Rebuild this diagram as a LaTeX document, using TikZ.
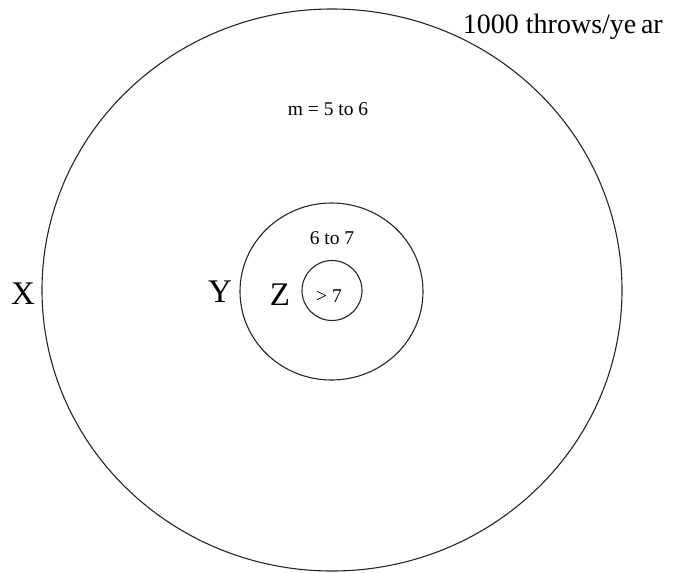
\documentclass[tikz,border=0pt]{standalone}
\usepackage{fontspec}
\setmainfont{Liberation Serif}
\begin{document}
\begin{tikzpicture}[x=1pt,y=-1pt,
  ring/.style={draw=black!85,line width=1.1pt},
  lbl/.style={inner sep=0pt,anchor=center}]
\useasboundingbox (0,0) rectangle (675,573);
\draw[ring] (332,290) ellipse [x radius=290,y radius=281];
\draw[ring] (331.5,291.5) ellipse [x radius=91.5,y radius=88.5];
\draw[ring] (332,290.5) ellipse [x radius=30,y radius=30];
\node[lbl,anchor=base east,font=\fontsize{28}{28}\selectfont] (title) at (663,33) {1000 throws/ye\,ar};
\node[lbl,font=\fontsize{19.5}{19.5}\selectfont] (m) at (328,109) {m = 5 to 6};
\node[lbl,font=\fontsize{19.5}{19.5}\selectfont] (b) at (332,238) {6 to 7};
\node[lbl,font=\fontsize{19.5}{19.5}\selectfont] (c) at (329,296) {> 7};
\node[lbl,font=\fontsize{33}{33}\selectfont] (X) at (23,294) {X};
\node[lbl,font=\fontsize{33}{33}\selectfont] (Y) at (220,292) {Y};
\node[lbl,font=\fontsize{33}{33}\selectfont] (Z) at (280,295) {Z};
\end{tikzpicture}
\end{document}
